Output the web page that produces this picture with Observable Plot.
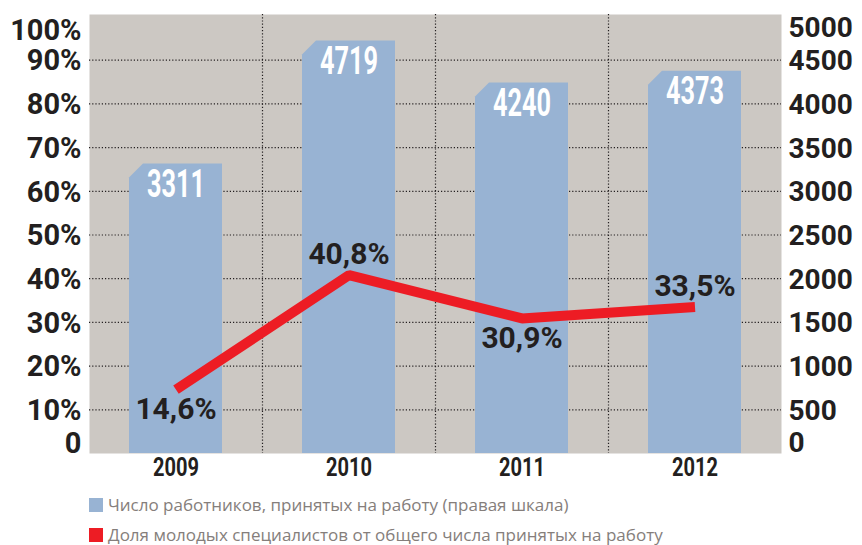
<!DOCTYPE html>
<html>
<head>
<meta charset="utf-8">
<script src="https://cdn.jsdelivr.net/npm/d3@7"></script>
<script src="https://cdn.jsdelivr.net/npm/@observablehq/plot@0.6"></script>
<style>
  html, body { margin: 0; padding: 0; background: #fff; }
  #legend { padding-left: 89px; font-family: "Open Sans", sans-serif; font-size: 17px; color: #857e7b; }
  .row { height: 30px; line-height: 30px; display: flex; align-items: center; white-space: nowrap; }
  .sw { width: 14px; height: 14px; margin-right: 5px; flex: none; }
</style>
</head>
<body>
<div id="chart"></div>
<div id="legend"></div>
<script>
const years = [2009, 2010, 2011, 2012];
const hired = [3311, 4719, 4240, 4373];
const youngShare = [14.6, 40.8, 30.9, 33.5];
const shareLabels = ["14,6%", "40,8%", "30,9%", "33,5%"];
const labelSide = ["below", "above", "below", "above"];
const leftTicks = [0, 10, 20, 30, 40, 50, 60, 70, 80, 90, 100];
const leftTickLabels = ["0", "10%", "20%", "30%", "40%", "50%", "60%", "70%", "80%", "90%", "100%"];
const rightTickLabels = [0, 500, 1000, 1500, 2000, 2500, 3000, 3500, 4000, 4500, 5000];
const rightMax = 5000;
const legendLabels = [
  "Число работников, принятых на работу (правая шкала)",
  "Доля молодых специалистов от общего числа принятых на работу"
];

const BG = "#ccc8c3", BAR = "#98b3d3", RED = "#ed1c24", INK = "#231f20";
const toPct = v => v / rightMax * 100;

const data = years.map((y, i) => ({
  year: y, hired: hired[i], share: youngShare[i], label: shareLabels[i], side: labelSide[i]
}));
const dividers = years.slice(1).map(y => y - 0.5);
const gridTicks = leftTicks.filter(t => t > 0 && t < 100);
const leftAxis = leftTicks.map((t, i) => ({t, label: leftTickLabels[i]}));
const rightAxis = rightTickLabels.map(v => ({t: toPct(v), label: String(v)}));

const numFont = "Roboto, 'DejaVu Sans', sans-serif";

const axisText = (data, opts) => Plot.text(data, {
  y: "t", text: "label", fill: INK, fontWeight: "bold", fontFamily: numFont, ...opts
});

const chart = Plot.plot({
  width: 862,
  height: 490,
  marginLeft: 89,
  marginRight: 81,
  marginTop: 14,
  marginBottom: 37,
  x: {domain: [years[0] - 0.5, years[years.length - 1] + 0.5], axis: null},
  y: {domain: [0, 100], insetTop: 2, axis: null},
  marks: [
    Plot.frame({fill: BG, stroke: null}),
    Plot.ruleY(gridTicks, {stroke: INK, strokeWidth: 1.2, strokeDasharray: "1.2,2"}),
    Plot.ruleX(dividers, {stroke: INK, strokeWidth: 1.2, strokeDasharray: "1.2,2"}),
    Plot.rect(data, {
      x1: d => d.year - 0.5, x2: d => d.year + 0.5,
      y1: 0, y2: d => toPct(d.hired),
      fill: BAR, insetLeft: 40, insetRight: 40
    }),
    Plot.text(data, {
      x: "year", y: d => toPct(d.hired), text: d => String(d.hired),
      dy: 21, fill: "white", fontSize: 38, fontWeight: "bold", fontFamily: numFont
    }),
    Plot.line(data, {
      x: "year", y: "share", stroke: RED, strokeWidth: 10,
      strokeLinecap: "butt", strokeLinejoin: "miter"
    }),
    Plot.text(data.filter(d => d.side === "below"), {
      x: "year", y: "share", text: "label", dy: 20,
      fill: INK, fontSize: 30, fontWeight: "bold", fontFamily: numFont
    }),
    Plot.text(data.filter(d => d.side === "above"), {
      x: "year", y: "share", text: "label", dy: -21,
      fill: INK, fontSize: 30, fontWeight: "bold", fontFamily: numFont
    }),
    // left axis labels
    axisText(leftAxis.filter(d => d.t > 0 && d.t < 100), {frameAnchor: "left", textAnchor: "end", dx: -8, dy: 1, fontSize: 29}),
    axisText(leftAxis.filter(d => d.t === 100), {frameAnchor: "left", textAnchor: "end", dx: -8, dy: 14, fontSize: 29}),
    axisText(leftAxis.filter(d => d.t === 0), {frameAnchor: "left", textAnchor: "end", dx: -8, dy: -10, fontSize: 29}),
    // right axis labels
    axisText(rightAxis.filter(d => d.t > 0 && d.t < 100), {frameAnchor: "right", textAnchor: "start", dx: 7, dy: 1, fontSize: 28}),
    axisText(rightAxis.filter(d => d.t === 100), {frameAnchor: "right", textAnchor: "start", dx: 7, dy: 12, fontSize: 28}),
    axisText(rightAxis.filter(d => d.t === 0), {frameAnchor: "right", textAnchor: "start", dx: 7, dy: -10, fontSize: 28}),
    // x labels
    Plot.text(years, {
      x: d => d, text: d => String(d), frameAnchor: "bottom", dy: 22,
      fill: INK, fontSize: 26, fontWeight: "bold", fontFamily: numFont
    })
  ]
});

// chamfer the top-left corner of each bar
d3.select(chart).selectAll('g[aria-label="rect"] rect').each(function () {
  const r = d3.select(this);
  const x = +r.attr("x"), y = +r.attr("y"), w = +r.attr("width"), h = +r.attr("height");
  const c = 14;
  const p = d3.select(this.parentNode).insert("path", () => this)
    .attr("d", `M${x},${y + c}L${x + c},${y}L${x + w},${y}L${x + w},${y + h}L${x},${y + h}Z`);
  if (r.attr("fill")) p.attr("fill", r.attr("fill"));
  r.remove();
});

// condensed look for the bar values and year labels
const textGroups = d3.select(chart).selectAll('g[aria-label="text"]').nodes();
d3.select(textGroups[0]).selectAll("text").attr("textLength", 58).attr("lengthAdjust", "spacingAndGlyphs");
d3.select(textGroups[textGroups.length - 1]).selectAll("text").attr("textLength", 46).attr("lengthAdjust", "spacingAndGlyphs");

document.getElementById("chart").appendChild(chart);

const legendColors = [BAR, RED];
const legend = document.getElementById("legend");
legendLabels.forEach((t, i) => {
  const row = document.createElement("div");
  row.className = "row";
  const sw = document.createElement("span");
  sw.className = "sw";
  sw.style.background = legendColors[i];
  const tx = document.createElement("span");
  tx.textContent = t;
  row.appendChild(sw);
  row.appendChild(tx);
  legend.appendChild(row);
});
</script>
</body>
</html>
